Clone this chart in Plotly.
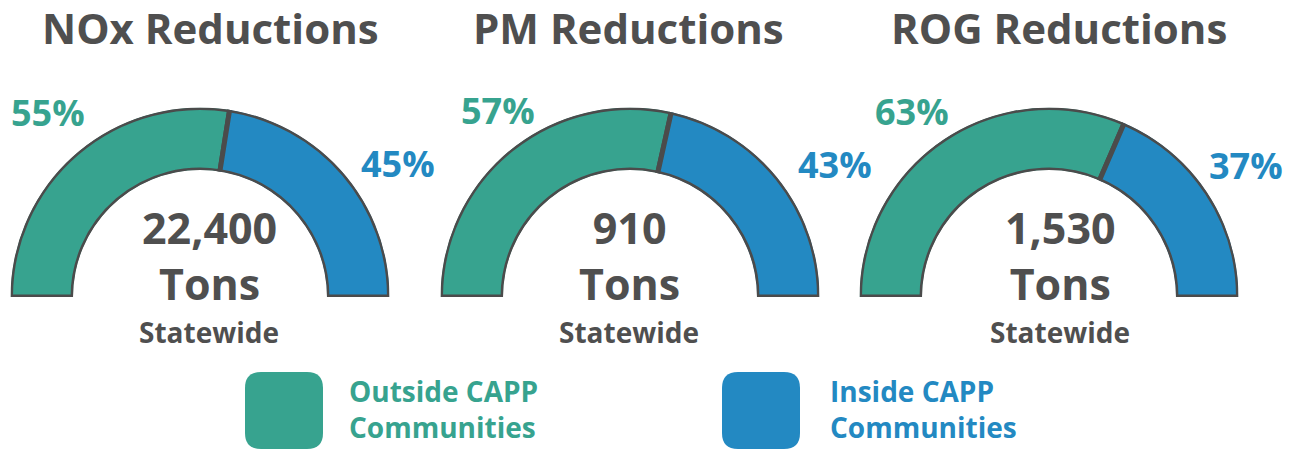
import plotly.graph_objects as go

# ---- data ----
pollutants = ["NOx", "PM", "ROG"]
titles = ["NOx Reductions", "PM Reductions", "ROG Reductions"]
outside_pct = [55, 57, 63]
inside_pct = [45, 43, 37]
totals = ["22,400", "910", "1,530"]
unit = "Tons"
scope = "Statewide"
series_names = ["Outside CAPP Communities", "Inside CAPP Communities"]
legend_labels = ["Outside CAPP<br>Communities", "Inside CAPP<br>Communities"]

# ---- style ----
W, H = 1296, 450
GREEN = "#37a38f"
BLUE = "#2389c2"
OUTLINE = "#4b4b4b"
TEXT = "#4f4f4f"
FONT = "Open Sans"

def px(x):
    return x / W

def py(y):
    return 1 - y / H

centers = [200, 630, 1049]
R = 189.5
base_y = 297
title_x = [210, 628, 1059]
center_text_x = [209, 629, 1060]
out_lbl = [(48, 112), (498, 110), (912, 111)]
in_lbl = [(398, 163), (835, 164), (1246, 165)]

fig = go.Figure()
annotations = []
layout_polars = {}

for i, p in enumerate(pollutants):
    pid = "polar" if i == 0 else f"polar{i+1}"
    sub = "polar" if i == 0 else f"polar{i+1}"
    o, n = outside_pct[i], inside_pct[i]
    tot = o + n
    ow = 180 * o / tot
    iw = 180 * n / tot
    fig.add_trace(go.Barpolar(
        r=[1], theta=[180 - ow / 2], width=[ow], base=[0],
        marker=dict(color=GREEN, line=dict(color=OUTLINE, width=5)),
        name=series_names[0], showlegend=False, subplot=sub,
        hovertemplate=f"{p} {series_names[0]}: {o}%<extra></extra>",
    ))
    fig.add_trace(go.Barpolar(
        r=[1], theta=[iw / 2], width=[iw], base=[0],
        marker=dict(color=BLUE, line=dict(color=OUTLINE, width=5)),
        name=series_names[1], showlegend=False, subplot=sub,
        hovertemplate=f"{p} {series_names[1]}: {n}%<extra></extra>",
    ))
    c = centers[i]
    layout_polars[pid] = dict(
        domain=dict(x=[px(c - R), px(c + R)], y=[py(base_y), py(base_y - R)]),
        sector=[0, 180], hole=0.67, bgcolor="rgba(0,0,0,0)",
        radialaxis=dict(visible=False, range=[0, 1], showgrid=False, showline=False),
        angularaxis=dict(visible=False, showgrid=False, showline=False,
                         direction="counterclockwise", rotation=0),
    )
    # title
    annotations.append(dict(x=px(title_x[i]), y=py(28), xref="paper", yref="paper",
                            text=titles[i], showarrow=False, xanchor="center", yanchor="middle",
                            font=dict(family=FONT, size=42, color=TEXT, weight=700)))
    # percentages
    annotations.append(dict(x=px(out_lbl[i][0]), y=py(out_lbl[i][1]), xref="paper", yref="paper",
                            text=f"{o}%", showarrow=False, xanchor="center", yanchor="middle",
                            font=dict(family=FONT, size=36, color=GREEN, weight=700)))
    annotations.append(dict(x=px(in_lbl[i][0]), y=py(in_lbl[i][1]), xref="paper", yref="paper",
                            text=f"{n}%", showarrow=False, xanchor="center", yanchor="middle",
                            font=dict(family=FONT, size=36, color=BLUE, weight=700)))
    # center text (total + unit)
    annotations.append(dict(x=px(center_text_x[i]), y=py(255), xref="paper", yref="paper",
                            text=f"{totals[i]}<br>{unit}", showarrow=False,
                            xanchor="center", yanchor="middle", align="center",
                            font=dict(family=FONT, size=43, color=TEXT, weight=700)))
    annotations.append(dict(x=px(center_text_x[i]), y=py(332), xref="paper", yref="paper",
                            text=scope, showarrow=False, xanchor="center", yanchor="middle",
                            font=dict(family=FONT, size=28, color=TEXT, weight=700)))

# legend (swatches + labels)
shapes = []
sw_x = [245, 722]
sw_top, sw_size, rad = 372, 78, 16
lbl_x = [347, 828]
colors = [GREEN, BLUE]
for k in range(2):
    x0, y0 = sw_x[k], sw_top
    x1, y1 = x0 + sw_size, y0 + sw_size - 1
    path = (f"M {px(x0+rad)},{py(y0)} L {px(x1-rad)},{py(y0)} "
            f"Q {px(x1)},{py(y0)} {px(x1)},{py(y0+rad)} L {px(x1)},{py(y1-rad)} "
            f"Q {px(x1)},{py(y1)} {px(x1-rad)},{py(y1)} L {px(x0+rad)},{py(y1)} "
            f"Q {px(x0)},{py(y1)} {px(x0)},{py(y1-rad)} L {px(x0)},{py(y0+rad)} "
            f"Q {px(x0)},{py(y0)} {px(x0+rad)},{py(y0)} Z")
    shapes.append(dict(type="path", path=path, xref="paper", yref="paper",
                       fillcolor=colors[k], line=dict(width=0)))
    annotations.append(dict(x=px(lbl_x[k]), y=py(409), xref="paper", yref="paper",
                            text=legend_labels[k], showarrow=False, xanchor="left", yanchor="middle",
                            align="left",
                            font=dict(family=FONT, size=28, color=colors[k], weight=700)))

fig.update_layout(
    width=W, height=H,
    margin=dict(l=0, r=0, t=0, b=0),
    paper_bgcolor="white", plot_bgcolor="white",
    showlegend=False,
    annotations=annotations,
    shapes=shapes,
    **layout_polars,
)

fig.write_html("out.html",
               config={"displayModeBar": False},
               post_script="document.body.style.margin='0';document.body.style.overflow='hidden';")
